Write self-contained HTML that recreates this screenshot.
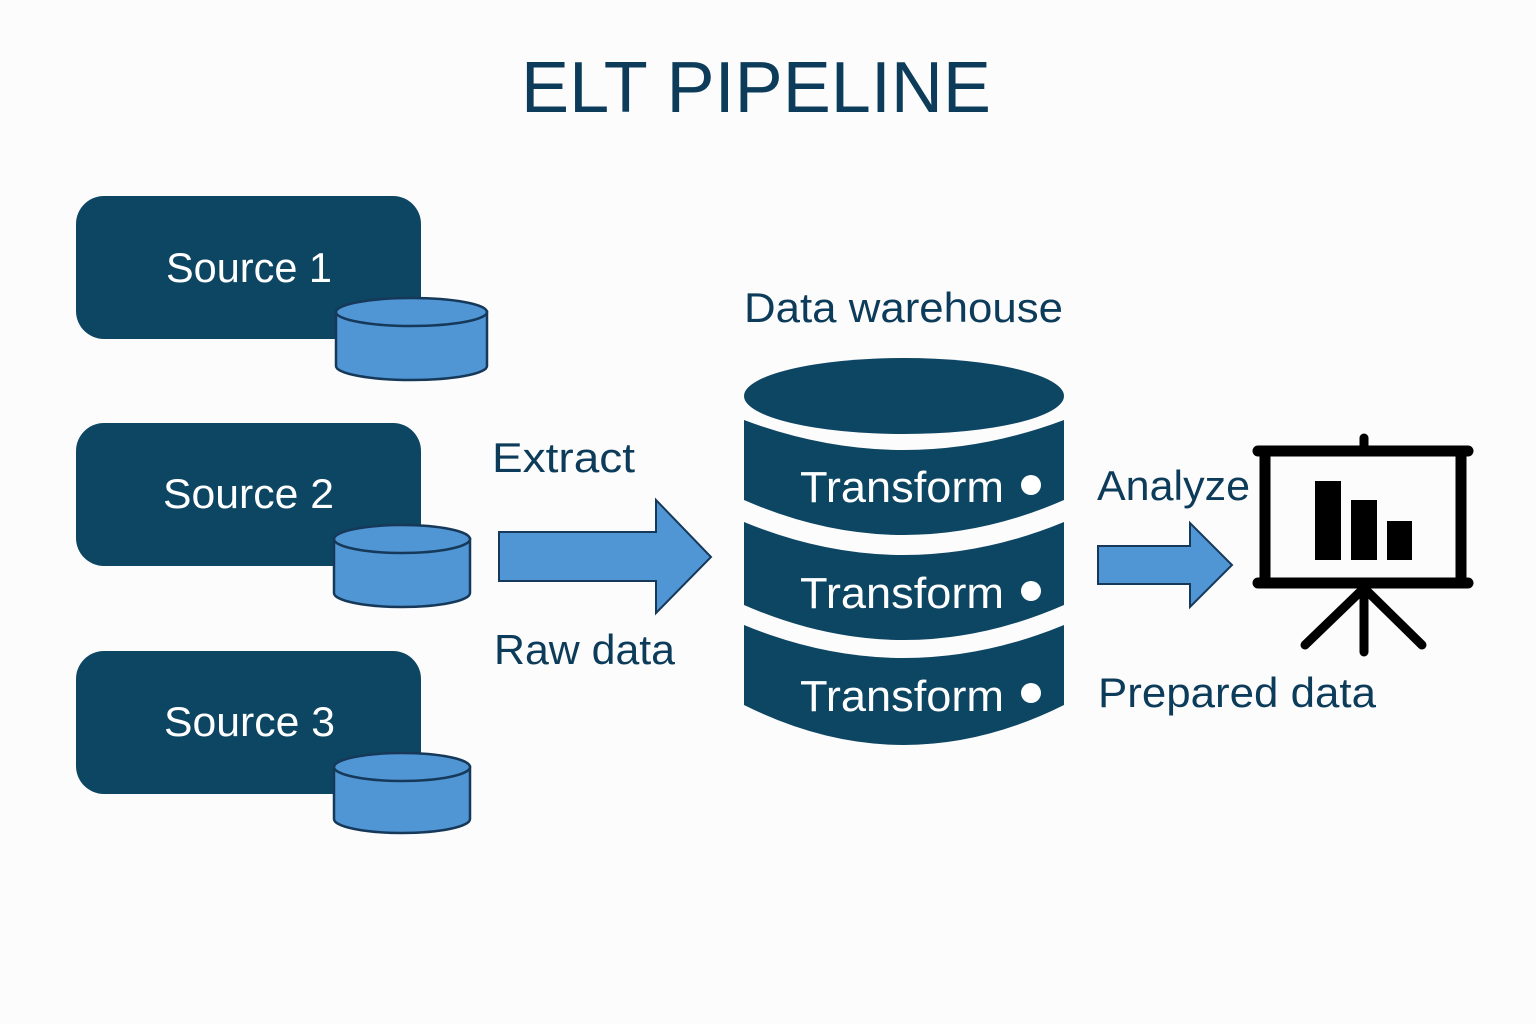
<!DOCTYPE html>
<html><head><meta charset="utf-8"><style>
html,body{margin:0;padding:0;background:#fcfcfc;}
svg{display:block;}
text{font-family:"Liberation Sans",sans-serif;}
</style></head><body>
<svg width="1536" height="1024" viewBox="0 0 1536 1024" xmlns="http://www.w3.org/2000/svg">
<rect width="1536" height="1024" fill="#fcfcfc"/>
<text x="756" y="112" font-size="72" fill="#0d3b5a" text-anchor="middle" textLength="470" lengthAdjust="spacingAndGlyphs">ELT PIPELINE</text>

<!-- sources -->
<g fill="#0d4663">
<rect x="76" y="196" width="345" height="143" rx="28"/>
<rect x="76" y="423" width="345" height="143" rx="28"/>
<rect x="76" y="651" width="345" height="143" rx="28"/>
</g>
<g fill="#fff" font-size="42">
<text x="166" y="282" textLength="166" lengthAdjust="spacingAndGlyphs">Source 1</text>
<text x="163" y="508" textLength="171" lengthAdjust="spacingAndGlyphs">Source 2</text>
<text x="164" y="736" textLength="171" lengthAdjust="spacingAndGlyphs">Source 3</text>
</g>
<g fill="#5096d4" stroke="#16395a" stroke-width="2.5">
<path d="M336,312 L336,366 A75.5,14 0 0 0 487,366 L487,312 Z"/>
<ellipse cx="411.5" cy="312" rx="75.5" ry="14"/>
<path d="M334,539 L334,593 A68,14 0 0 0 470,593 L470,539 Z"/>
<ellipse cx="402" cy="539" rx="68" ry="14"/>
<path d="M334,767 L334,819 A68,14 0 0 0 470,819 L470,767 Z"/>
<ellipse cx="402" cy="767" rx="68" ry="14"/>
</g>

<!-- labels -->
<g fill="#0d3b5a" font-size="42">
<text x="744" y="322" textLength="319" lengthAdjust="spacingAndGlyphs">Data warehouse</text>
<text x="492" y="472" textLength="143" lengthAdjust="spacingAndGlyphs">Extract</text>
<text x="494" y="664" textLength="181" lengthAdjust="spacingAndGlyphs">Raw data</text>
<text x="1097" y="500" textLength="153" lengthAdjust="spacingAndGlyphs">Analyze</text>
<text x="1098" y="707" textLength="278" lengthAdjust="spacingAndGlyphs">Prepared data</text>
</g>

<!-- arrows -->
<g fill="#5096d4" stroke="#16395a" stroke-width="2">
<path d="M499,532 L656,532 L656,500 L711,557 L656,613 L656,581 L499,581 Z"/>
<path d="M1098,546 L1190,546 L1190,523 L1232,565 L1190,607 L1190,584 L1098,584 Z"/>
</g>

<!-- warehouse -->
<g fill="#0d4663">
<ellipse cx="904" cy="396" rx="160" ry="38"/>
<path d="M744,420 Q904,480 1064,420 L1064,500 Q904,570 744,500 Z"/>
<path d="M744,522 Q904,588 1064,522 L1064,605 Q904,675 744,605 Z"/>
<path d="M744,625 Q904,691 1064,625 L1064,705 Q904,785 744,705 Z"/>
</g>
<g fill="#fff" font-size="44">
<text x="800" y="502" textLength="204" lengthAdjust="spacingAndGlyphs">Transform</text>
<text x="800" y="608" textLength="204" lengthAdjust="spacingAndGlyphs">Transform</text>
<text x="800" y="711" textLength="204" lengthAdjust="spacingAndGlyphs">Transform</text>
<circle cx="1031" cy="485" r="10"/>
<circle cx="1031" cy="591" r="10"/>
<circle cx="1031" cy="693" r="10"/>
</g>

<!-- presentation board -->
<g stroke="#000" fill="none" stroke-linecap="round">
<rect x="1265" y="451" width="196" height="132" stroke-width="11"/>
<line x1="1258" y1="451" x2="1468" y2="451" stroke-width="11"/>
<line x1="1258" y1="583" x2="1468" y2="583" stroke-width="11"/>
<line x1="1364" y1="438" x2="1364" y2="451" stroke-width="9"/>
<line x1="1364" y1="588" x2="1364" y2="652" stroke-width="9"/>
<line x1="1362" y1="590" x2="1305" y2="645" stroke-width="9"/>
<line x1="1366" y1="590" x2="1422" y2="645" stroke-width="9"/>
</g>
<g fill="#000">
<rect x="1315" y="481" width="26" height="79"/>
<rect x="1351" y="500" width="26" height="60"/>
<rect x="1387" y="521" width="25" height="39"/>
</g>
</svg>
</body></html>
